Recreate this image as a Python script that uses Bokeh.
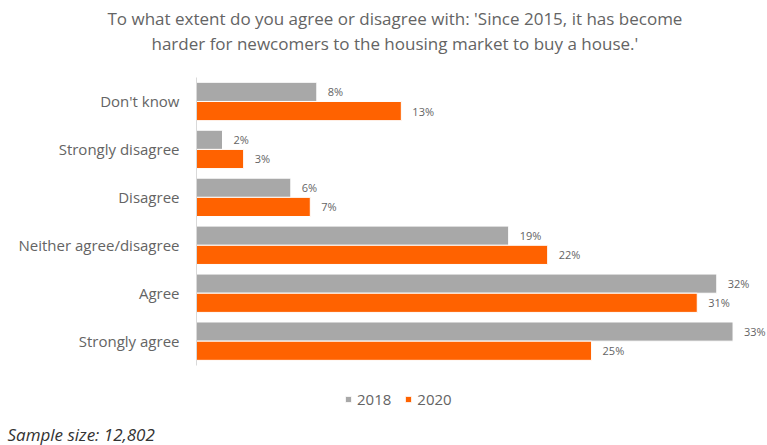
from bokeh.plotting import figure
from bokeh.models import Title, Legend, LegendItem, ColumnDataSource, Range1d, FixedTicker
from bokeh.transform import dodge
from bokeh.core.properties import value
from bokeh.embed import file_html
from bokeh.resources import INLINE

# Data (top to bottom as shown)
categories = ["Don't know", "Strongly disagree", "Disagree",
              "Neither agree/disagree", "Agree", "Strongly agree"]
# bar lengths (%)
values_2018 = [7.4, 1.6, 5.8, 19.2, 32.0, 33.0]
values_2020 = [12.6, 2.9, 7.0, 21.6, 30.8, 24.3]
# data labels as printed
labels_2018 = ["8%", "2%", "6%", "19%", "32%", "33%"]
labels_2020 = ["13%", "3%", "7%", "22%", "31%", "25%"]

FONT = "Open Sans"
GREY_TXT = "#646464"
C2018 = "#a8a8a8"
C2020 = "#ff6200"

n = len(categories)
ypos = [n - i - 0.5 for i in range(n)]   # category slots, top to bottom

src = ColumnDataSource(dict(y=ypos, cat=categories, v18=values_2018, v20=values_2020,
                            l18=labels_2018, l20=labels_2020))

p = figure(title=None, width=767, height=445,
           x_range=Range1d(0, 35.12), y_range=Range1d(-1.155, n),
           x_axis_location=None,
           min_border_left=196, min_border_right=0,
           min_border_top=77, min_border_bottom=24,
           output_backend="svg", toolbar_location=None,
           background_fill_color="white", border_fill_color="white")
p.outline_line_color = None
p.xgrid.visible = False
p.ygrid.visible = False

ya = p.yaxis[0]
ya.ticker = FixedTicker(ticks=ypos)
ya.major_label_overrides = {y: c for y, c in zip(ypos, categories)}
ya.bounds = (0, n)
ya.axis_line_color = "#d9d9d9"
ya.axis_line_width = 1
ya.major_tick_line_color = None
ya.minor_tick_line_color = None
ya.major_label_text_font = FONT
ya.major_label_text_font_size = "15px"
ya.major_label_text_color = GREY_TXT
ya.major_label_standoff = 11

r18 = p.hbar(y=dodge("y", 0.2), right="v18", left=0, height=0.4,
             source=src, fill_color=C2018, line_color="white", line_width=1)
r20 = p.hbar(y=dodge("y", -0.2), right="v20", left=0, height=0.4,
             source=src, fill_color=C2020, line_color="white", line_width=1)

p.text(x="v18", y=dodge("y", 0.2), text="l18", source=src,
       x_offset=11, text_baseline="middle", text_align="left",
       text_font=value(FONT), text_font_size="11px", text_color=GREY_TXT)
p.text(x="v20", y=dodge("y", -0.2), text="l20", source=src,
       x_offset=11, text_baseline="middle", text_align="left",
       text_font=value(FONT), text_font_size="11px", text_color=GREY_TXT)

# titles (first added sits closest to the frame)
spacer = Title(text=" ", text_font_size="1px", standoff=20)
t2 = Title(text="harder for newcomers to the housing market to buy a house.'",
           align="left", offset=-45, text_font=FONT, text_font_size="17px",
           text_font_style="normal", text_color=GREY_TXT, standoff=0)
t1 = Title(text="To what extent do you agree or disagree with: 'Since 2015, it has become",
           align="left", offset=-89, text_font=FONT, text_font_size="17px",
           text_font_style="normal", text_color=GREY_TXT, standoff=0)
p.add_layout(spacer, "above")
p.add_layout(t2, "above")
p.add_layout(t1, "above")

legend = Legend(items=[LegendItem(label="2018", renderers=[r18]),
                       LegendItem(label="2020", renderers=[r20])],
                orientation="horizontal", location=(148, 11),
                glyph_width=8, glyph_height=8, label_standoff=5, spacing=13,
                padding=0, margin=0, label_height=16,
                label_text_font=FONT, label_text_font_size="15px",
                label_text_color=GREY_TXT,
                border_line_alpha=0, background_fill_alpha=0)
p.add_layout(legend, "center")

foot = Title(text="Sample size: 12,802", align="left", offset=-189,
             vertical_align="bottom",
             text_font=FONT, text_font_size="17px", text_font_style="italic",
             text_color="#333333", standoff=0)
p.add_layout(foot, "below")

open("out.html", "w").write(file_html(p, INLINE))
